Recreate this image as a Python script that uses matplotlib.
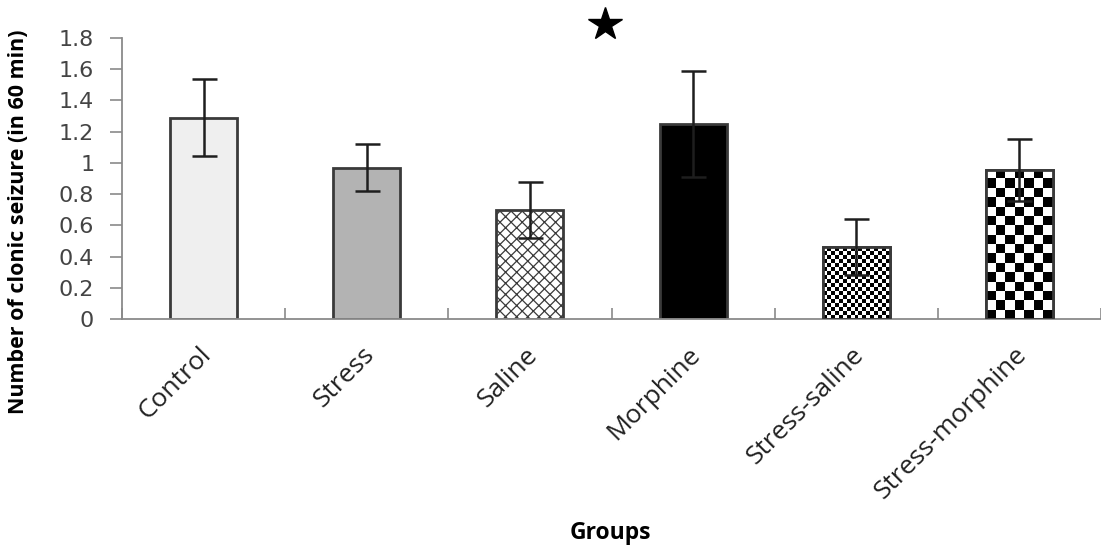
import numpy as np
import matplotlib
matplotlib.use("Agg")
import matplotlib.pyplot as plt
from matplotlib.transforms import ScaledTranslation

# data
groups = ["Control", "Stress", "Saline", "Morphine", "Stress-saline", "Stress-morphine"]
means = [1.29, 0.97, 0.70, 1.25, 0.46, 0.955]
errors = [0.245, 0.15, 0.18, 0.34, 0.18, 0.20]
yticks = [0, 0.2, 0.4, 0.6, 0.8, 1, 1.2, 1.4, 1.6, 1.8]
ytick_labels = ["0", "0.2", "0.4", "0.6", "0.8", "1", "1.2", "1.4", "1.6", "1.8"]

fills = ["#efefef", "#b3b3b3", "white", "black", "white", "white"]
hatches = [None, None, "xxx", None, None, None]
checker_px = [None, None, None, None, 4, 9.5]   # checkerboard cell size in pixels

plt.rcParams['hatch.color'] = '#666666'
plt.rcParams['hatch.linewidth'] = 0.9

fig = plt.figure(figsize=(11.01, 5.47), dpi=100)
ax = fig.add_axes([122/1101, 228/547, 979/1101, 281/547])

x = np.arange(len(groups))
bars = ax.bar(x, means, width=0.41, color=fills, edgecolor="#3a3a3a", linewidth=2, zorder=2)
for b, h in zip(bars, hatches):
    if h:
        b.set_hatch(h)

ax.set_xlim(-0.5, -0.5 + 979/164)
ax.set_ylim(0, 1.8)

# checkerboard fills, clipped to the bar shapes
fig.canvas.draw()
for b, cpx in zip(bars, checker_px):
    if cpx is None:
        continue
    (px0, py0), (px1, py1) = ax.transData.transform([(b.get_x(), 0), (b.get_x() + b.get_width(), b.get_height())])
    nc = max(1, int(round((px1 - px0) / cpx)))
    nr = max(1, int(round((py1 - py0) / cpx)))
    board = (np.add.outer(np.arange(nr), np.arange(nc)) % 2).astype(float)
    im = ax.imshow(board, cmap="gray", interpolation="nearest", aspect="auto",
                   extent=(b.get_x(), b.get_x() + b.get_width(), 0, b.get_height()),
                   origin="lower", zorder=2.5)
    im.set_clip_path(b)
    edge = plt.Rectangle((b.get_x(), 0), b.get_width(), b.get_height(), fill=False,
                         edgecolor="#3a3a3a", linewidth=2, zorder=3)
    ax.add_patch(edge)
ax.set_xlim(-0.5, -0.5 + 979/164)
ax.set_ylim(0, 1.8)

ax.errorbar(x, means, yerr=errors, fmt="none", ecolor="#1e1e1e", elinewidth=1.8,
            capsize=9, capthick=1.8, zorder=4)

# significance star
ax.plot([2.463], [1.89], marker="*", markersize=25, color="black", clip_on=False, zorder=5)

for s in ["top", "right"]:
    ax.spines[s].set_visible(False)
for s in ["left", "bottom"]:
    ax.spines[s].set_color("#8a8a8a")
    ax.spines[s].set_linewidth(1.3)

ax.set_yticks(yticks)
ax.set_yticklabels(ytick_labels, fontsize=16, color="#444444", family="DejaVu Sans")
ax.tick_params(axis="y", length=9, width=1.2, color="#8a8a8a", pad=11)

ax.set_xticks(np.arange(-0.5, len(groups), 1.0))
ax.set_xticklabels([])
ax.tick_params(axis="x", length=8, width=1.2, color="#8a8a8a", direction="in")

off = ScaledTranslation(0.04, -0.32, fig.dpi_scale_trans)
for i, g in enumerate(groups):
    ax.text(i, 0, g, transform=ax.get_xaxis_transform() + off, rotation=45,
            rotation_mode="anchor", ha="right", va="center", fontsize=19,
            family="Open Sans", color="#222222")

fig.text(19/1101, 1 - 222/547, "Number of clonic seizure (in 60 min)", rotation=90,
         ha="center", va="center", fontsize=15.5, fontweight="bold", family="Open Sans")
fig.text(610/1101, 1 - 533/547, "Groups", ha="center", va="center", fontsize=16.5,
         fontweight="bold", family="Open Sans")

fig.savefig("out.png", dpi=100)
